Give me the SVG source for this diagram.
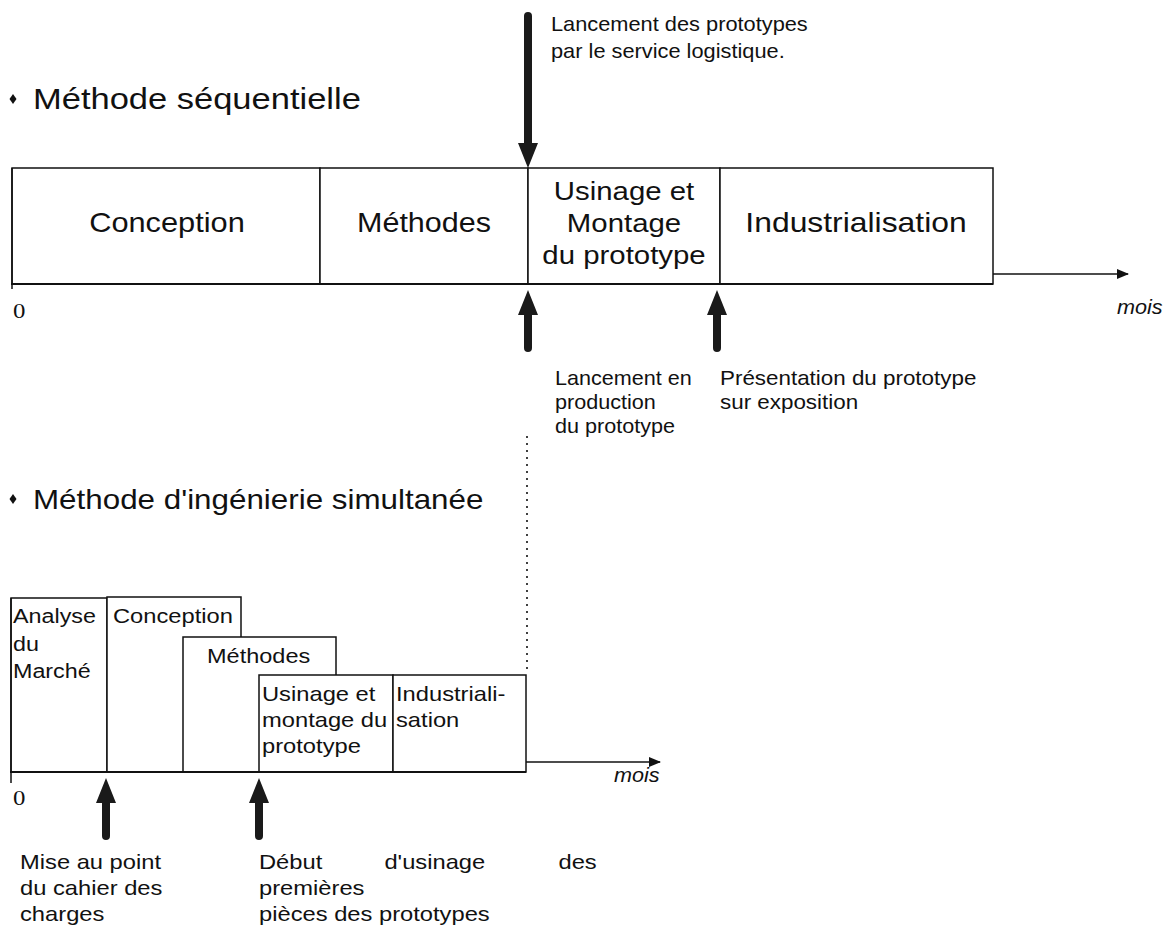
<svg xmlns="http://www.w3.org/2000/svg" xmlns:xlink="http://www.w3.org/1999/xlink" width="1175" height="940" viewBox="0 0 1175 940">
<style>
.t{font-family:"Liberation Sans",Arial,Helvetica,sans-serif;fill:#111}
.it{font-style:italic}
.serif{font-family:"Liberation Serif","Times New Roman",serif;fill:#111}
.box{fill:#fff;stroke:#111;stroke-width:1.5}
.ln{stroke:#111;stroke-width:1.5;fill:none}
.axis{stroke:#111;stroke-width:2.2;fill:none}
.big{fill:#1a1a1a}
.dot{stroke:#111;stroke-width:1.6;stroke-dasharray:2 5;fill:none}
</style>
<defs>
<path id="upArrow" d="M0,0 L10,25 L4,25 L4,58 A4,4 0 0 1 -4,58 L-4,25 L-10,25 Z"/>
<marker id="ah" viewBox="0 0 12 10" refX="11" refY="5" markerWidth="12" markerHeight="10" markerUnits="userSpaceOnUse" orient="auto">
<path d="M0,0 L12,5 L0,10 Z" fill="#111"/>
</marker>
</defs>
<rect width="1175" height="940" fill="#fff"/>

<!-- Sequential method -->
<g id="title-seq">
<polygon points="13,94 16.5,99 13,104 9.5,99" fill="#111"/>
<text class="t" font-size="30" transform="translate(33,109) scale(1.15,1)">Méthode séquentielle</text>
</g>

<g id="seq-conception">
<rect class="box" x="12" y="168" width="308" height="116"/>
<text class="t" font-size="27" text-anchor="middle" transform="translate(167,232) scale(1.14,1)">Conception</text>
</g>
<g id="seq-methodes">
<rect class="box" x="320" y="168" width="208" height="116"/>
<text class="t" font-size="27" text-anchor="middle" transform="translate(424,232) scale(1.13,1)">Méthodes</text>
</g>
<g id="seq-usinage">
<rect class="box" x="528" y="168" width="192" height="116"/>
<text class="t" font-size="26" text-anchor="middle" transform="translate(624,200) scale(1.13,1)"><tspan x="0" y="0">Usinage et</tspan><tspan x="0" y="32">Montage</tspan><tspan x="0" y="64">du prototype</tspan></text>
</g>
<g id="seq-industrialisation">
<rect class="box" x="720" y="168" width="273" height="116"/>
<text class="t" font-size="27" text-anchor="middle" transform="translate(856,232) scale(1.18,1)">Industrialisation</text>
</g>

<g id="seq-axis-labels">
<text class="serif" font-size="22" transform="translate(13,318) scale(1.13,1)">0</text>
<text class="t it" font-size="21" transform="translate(1117,314) scale(1.03,1)">mois</text>
</g>

<g id="note-logistique">
<text class="t" font-size="20" transform="translate(551,31) scale(1.09,1)"><tspan x="0" y="0">Lancement des prototypes</tspan><tspan x="0" y="27">par le service logistique.</tspan></text>
</g>
<g id="note-lancement">
<text class="t" font-size="20" transform="translate(555,385) scale(1.08,1)"><tspan x="0" y="0">Lancement en</tspan><tspan x="0" y="24">production</tspan><tspan x="0" y="48">du prototype</tspan></text>
</g>
<g id="note-presentation">
<text class="t" font-size="20" transform="translate(720,385) scale(1.12,1)"><tspan x="0" y="0">Présentation du prototype</tspan><tspan x="0" y="24">sur exposition</tspan></text>
</g>

<!-- Simultaneous engineering -->
<g id="title-sim">
<polygon points="13,494 16.5,499 13,504 9.5,499" fill="#111"/>
<text class="t" font-size="28" transform="translate(33,509) scale(1.12,1)">Méthode d'ingénierie simultanée</text>
</g>

<g id="sim-analyse">
<rect class="box" x="11" y="598" width="96" height="174"/>
<text class="t" font-size="21" transform="translate(13,623) scale(1.11,1)"><tspan x="0" y="0">Analyse</tspan><tspan x="0" y="28">du</tspan><tspan x="0" y="55">Marché</tspan></text>
</g>
<g id="sim-conception">
<rect class="box" x="107" y="597" width="134" height="175"/>
<text class="t" font-size="21" transform="translate(113,623) scale(1.13,1)">Conception</text>
</g>
<g id="sim-methodes">
<rect class="box" x="183" y="637" width="153" height="135"/>
<text class="t" font-size="21" transform="translate(207,663) scale(1.12,1)">Méthodes</text>
</g>
<g id="sim-usinage">
<rect class="box" x="259" y="675" width="134" height="97"/>
<text class="t" font-size="21" transform="translate(262,701) scale(1.13,1)"><tspan x="0" y="0">Usinage et</tspan><tspan x="0" y="26">montage du</tspan><tspan x="0" y="52">prototype</tspan></text>
</g>
<g id="sim-industrialisation">
<rect class="box" x="393" y="675" width="133" height="97"/>
<text class="t" font-size="21" transform="translate(396,701) scale(1.13,1)"><tspan x="0" y="0">Industriali-</tspan><tspan x="0" y="26">sation</tspan></text>
</g>

<g id="sim-axis-labels">
<text class="serif" font-size="22" transform="translate(13,805) scale(1.13,1)">0</text>
<text class="t it" font-size="21" transform="translate(614,782) scale(1.03,1)">mois</text>
</g>

<g id="note-cahier">
<text class="t" font-size="21" transform="translate(20,869) scale(1.13,1)"><tspan x="0" y="0">Mise au point</tspan><tspan x="0" y="26">du cahier des</tspan><tspan x="0" y="52">charges</tspan></text>
</g>
<g id="note-usinage">
<text class="t" font-size="21" transform="translate(259,869) scale(1.13,1)"><tspan x="0" y="0">Début</tspan><tspan x="111" y="0">d'usinage</tspan><tspan x="265" y="0">des</tspan><tspan x="0" y="26">premières</tspan><tspan x="0" y="52">pièces des prototypes</tspan></text>
</g>

<!-- Connectors -->
<g id="connectors">
<line class="axis" x1="11" y1="284" x2="993" y2="284"/>
<line class="ln" x1="12" y1="168" x2="12" y2="289"/>
<line class="ln" x1="993" y1="274" x2="1128" y2="274" marker-end="url(#ah)"/>
<line class="axis" x1="10" y1="772" x2="526" y2="772"/>
<line class="ln" x1="11" y1="598" x2="11" y2="783"/>
<line class="ln" x1="526" y1="762" x2="660" y2="762" marker-end="url(#ah)"/>
<line class="dot" x1="527" y1="436" x2="527" y2="674"/>
<path class="big" d="M528,168 L518,143 L524,143 L524,16 A4,4 0 0 1 532,16 L532,143 L538,143 Z"/>
<use href="#upArrow" xlink:href="#upArrow" class="big" x="528" y="290"/>
<use href="#upArrow" xlink:href="#upArrow" class="big" x="717" y="290"/>
<use href="#upArrow" xlink:href="#upArrow" class="big" x="106" y="778"/>
<use href="#upArrow" xlink:href="#upArrow" class="big" x="259" y="778"/>
</g>
</svg>
